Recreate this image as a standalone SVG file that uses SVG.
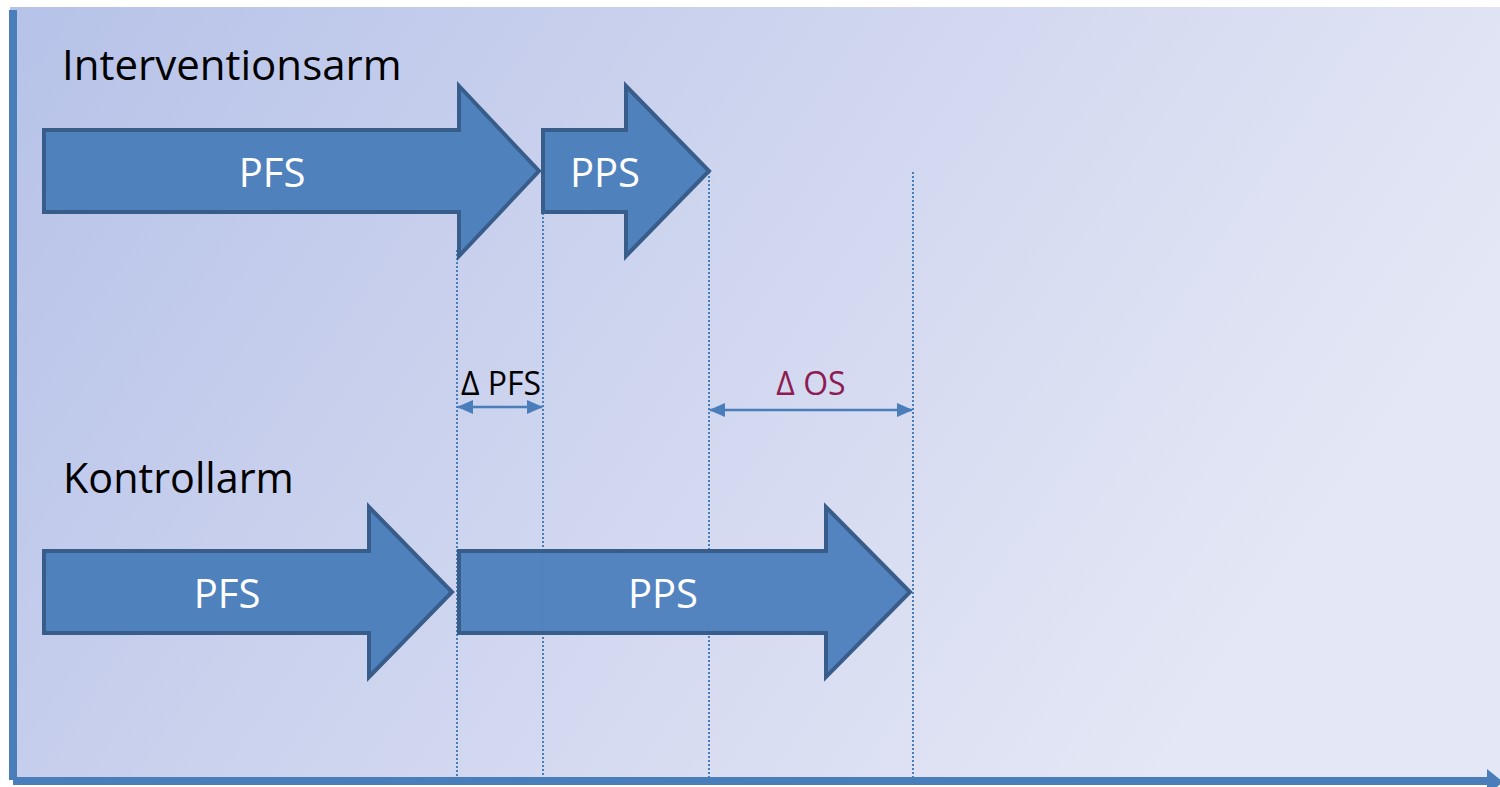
<svg xmlns="http://www.w3.org/2000/svg" width="1500" height="787" viewBox="0 0 1500 787">
  <defs>
    <linearGradient id="bg" x1="0" y1="0" x2="1" y2="0.35">
      <stop offset="0" stop-color="#b6c2e8"/>
      <stop offset="0.45" stop-color="#ccd3ee"/>
      <stop offset="1" stop-color="#e4e7f5"/>
    </linearGradient>
    <marker id="head" viewBox="0 0 16 14" refX="15" refY="7" markerWidth="16" markerHeight="14" markerUnits="userSpaceOnUse" orient="auto-start-reverse">
      <path d="M0,0 L16,7 L0,14 Z" fill="#4a7ebb"/>
    </marker>
    <style>
      .blk { fill: #4f81bd; stroke: #385d8a; stroke-width: 4; stroke-linejoin: miter; }
      .inner { font-family: "Open Sans", "Liberation Sans", sans-serif; font-size: 40px; fill: #ffffff; text-anchor: middle; }
      .arm { font-family: "Open Sans", "Liberation Sans", sans-serif; font-size: 42px; fill: #000000; }
      .delta { font-family: "Open Sans", "Liberation Sans", sans-serif; font-size: 32px; }
      .guide { stroke: #4a7ebb; stroke-width: 2; stroke-dasharray: 2 2; fill: none; }
      .span { stroke: #4a7ebb; stroke-width: 2.5; fill: none; marker-start: url(#head); marker-end: url(#head); }
    </style>
  </defs>

  <!-- panel background -->
  <rect x="10" y="7" width="1490" height="773" fill="url(#bg)"/>

  <!-- time axes -->
  <g id="axes">
    <rect x="9" y="10" width="8" height="770" fill="#4a7ebb"/>
    <rect x="13" y="777" width="1476" height="8" fill="#4a7ebb"/>
    <polygon points="1487,769 1487,795 1503,782" fill="#4a7ebb"/>
  </g>

  <!-- guide lines and interval spans -->
  <g id="connectors">
    <line class="guide" x1="457" y1="250" x2="457" y2="777"/>
    <line class="guide" x1="543" y1="213" x2="543" y2="777"/>
    <line class="guide" x1="709" y1="172" x2="709" y2="777"/>
    <line class="guide" x1="913" y1="172" x2="913" y2="777"/>
    <line class="span" x1="458" y1="407" x2="542" y2="407"/>
    <line class="span" x1="710" y1="410" x2="912" y2="410"/>
  </g>

  <!-- arm titles -->
  <g id="label-intervention">
    <text class="arm" x="62" y="80">Interventionsarm</text>
  </g>
  <g id="label-control">
    <text class="arm" x="63" y="493" style="font-size:41.3px">Kontrollarm</text>
  </g>

  <!-- intervention arm phases -->
  <g id="int-pfs">
    <path class="blk" d="M44,130 H459 V86 L539,171 L459,256 V212 H44 Z"/>
    <text class="inner" x="272" y="187">PFS</text>
  </g>
  <g id="int-pps">
    <path class="blk" d="M543,130 H626 V86 L709,171 L626,256 V212 H543 Z"/>
    <text class="inner" x="605" y="187">PPS</text>
  </g>

  <!-- control arm phases -->
  <g id="ctl-pfs">
    <path class="blk" d="M44,551 H369 V507 L452,592 L369,677 V633 H44 Z"/>
    <text class="inner" x="227" y="608">PFS</text>
  </g>
  <g id="ctl-pps">
    <path class="blk" d="M459,551 H826 V507 L910,592 L826,677 V633 H459 Z" fill-opacity="0.97" style="fill-opacity:0.97"/>
    <text class="inner" x="663" y="608">PPS</text>
  </g>

  <g id="delta-pfs">
    <text class="delta" x="461" y="395" fill="#000000">Δ PFS</text>
  </g>
  <g id="delta-os">
    <text class="delta" x="811" y="395" fill="#8e1b52" text-anchor="middle">Δ OS</text>
  </g>
</svg>
